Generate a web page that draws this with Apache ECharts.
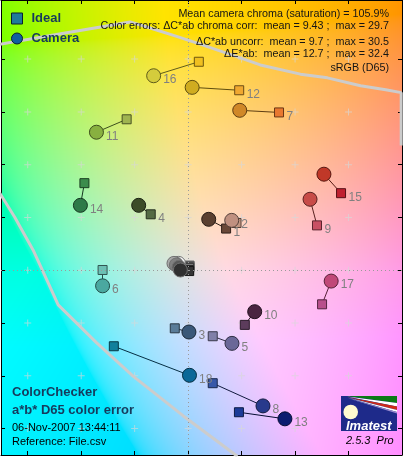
<!DOCTYPE html>
<html><head><meta charset="utf-8">
<script src="https://cdn.jsdelivr.net/npm/echarts@6/dist/echarts.min.js"></script>
<style>html,body{margin:0;padding:0;background:#fff;}#c{width:404px;height:457px;}</style>
</head><body><div id="c"></div>
<script>
// ---- data ----
const patchNames = ['1','2','3','4','5','6','7','8','9','10','11','12','13','14','15','16','17','18','19','20','21','22','23','24'];
const cameraA = [7.7, 16.3, 0.3, -18.5, 16.4, -32.0, 19.3, 28.0, 45.6, 24.9, -34.3, 1.5, 36.2, -40.3, 50.8, -12.9, 53.5, 0.5, -3.6, -4.6, -5.3, -4.4, -3.4, -2.9];
const cameraB = [19.3, 18.9, -23.4, 24.6, -27.7, -5.9, 60.6, -51.4, 26.9, -15.7, 52.3, 69.3, -56.3, 24.6, 36.4, 73.7, -4.1, -39.8, 2.6, 2.4, 2.6, 2.0, 1.1, 0.1];
const idealA = [14.2, 18.1, -5.0, -14.0, 9.2, -32.0, 34.0, 9.2, 48.2, 21.2, -23.0, 19.1, 19.0, -38.8, 57.2, 4.0, 50.1, -27.8, 0.5, 0.5, 0.4, 0.4, 0.3, 0.4];
const idealB = [15.8, 17.9, -22.0, 21.2, -25.0, 0.1, 59.8, -42.8, 17.0, -20.7, 57.2, 68.2, -53.8, 33.0, 29.2, 79.0, -12.9, -28.8, 1.8, 1.6, 1.2, 0.9, 0.1, -0.3];
const cameraColors = ['#5a4030','#c09080','#3a5878','#3c4c28','#6a6898','#4aa8a0','#d08828','#283a8c','#c84c48','#4a2440','#88b040','#d0ac20','#0c1c70','#2e7a48','#c03828','#d4cc3c','#c04878','#0a6898','#f4f4f4','#d0d0d0','#a8a8a8','#808080','#585858','#303030'];
const idealColors = ['#6a4838','#c29682','#5a7c98','#546a44','#8080a8','#6cc0b4','#e87830','#3858a8','#c85064','#5c3c5c','#a0b450','#f0a830','#1c3c98','#3c8c4c','#c02030','#f0c020','#b8508c','#10809c','#f3f3f3','#c8c8c8','#a0a0a0','#7a7a7a','#555555','#343434'];
const labelAt = ['i','c','c','i','c','c','i','c','i','c','c','i','c','c','i','c','c','c','','','','','',''];
const gamutTopA = [-70.5, -46.0, -21.7, -14.2, -4.9, 4.5, 19.5, 27.0, 42.0, 52.1, 64.5, 73.9, 79.7, 79.7];
const gamutTopB = [85.6, 89.9, 94.1, 91.8, 88.8, 85.7, 80.5, 77.8, 74.3, 72.9, 69.9, 68.4, 67.3, 47.3];
const gamutLowA = [-70.5, -64.9, -58.0, -51.7, -48.6, -34.2, -20.5, -1.8, 18.4];
const gamutLowB = [29.3, 20.2, 7.7, -6.2, -13.1, -27.5, -40.2, -55.2, -70.5];
const aTicks = [-60, -40, -20, 0, 20, 40, 60];
const bTicks = [-60, -40, -20, 0, 20, 40, 60, 80];
const aRange = [-70, 80];
const bRange = [-70, 102.4];
const infoLines = [
  'Mean camera chroma (saturation) = 105.9%',
  'Color errors: \u0394C*ab chroma corr:  mean = 9.43 ;  max = 29.7',
  '\u0394C*ab uncorr:  mean = 9.7 ;  max = 30.5',
  '\u0394E*ab:  mean = 12.7 ;  max = 32.4',
  'sRGB (D65)'
];

// ---- helpers ----
const FONT = "'Liberation Sans', Arial, sans-serif";
function shade(hex, f) {
  const n = parseInt(hex.slice(1), 16);
  const r = Math.round(((n >> 16) & 255) * f), g = Math.round(((n >> 8) & 255) * f), b = Math.round((n & 255) * f);
  return 'rgb(' + r + ',' + g + ',' + b + ')';
}
function labToSrgb(L, a, b) {
  const fy = (L + 16) / 116, fx = fy + a / 500, fz = fy - b / 200;
  const d = 6 / 29;
  const finv = t => t > d ? t * t * t : 3 * d * d * (t - 4 / 29);
  const X = 0.95047 * finv(fx), Y = finv(fy), Z = 1.08883 * finv(fz);
  const r = 3.2406 * X - 1.5372 * Y - 0.4986 * Z;
  const g = -0.9689 * X + 1.8758 * Y + 0.0415 * Z;
  const bl = 0.0557 * X - 0.2040 * Y + 1.0570 * Z;
  const gam = v => { v = Math.min(1, Math.max(0, v)); return v <= 0.0031308 ? 12.92 * v : 1.055 * Math.pow(v, 1 / 2.4) - 0.055; };
  return [gam(r) * 255, gam(g) * 255, gam(bl) * 255];
}

const GRID = { left: 1, top: 0, right: 2, bottom: 2 };
const W = 404 - GRID.left - GRID.right, H = 457 - GRID.top - GRID.bottom;
const bg = document.createElement('canvas');
bg.width = W; bg.height = H;
(function () {
  const ctx = bg.getContext('2d');
  const img = ctx.createImageData(W, H);
  for (let j = 0; j < H; j++) {
    const b = bRange[1] - (j + 0.5) / H * (bRange[1] - bRange[0]);
    const bb = b < 0 ? b * 0.7 : b;
    const L = b < 0 ? 90 + 0.1 * b : 90;
    for (let i = 0; i < W; i++) {
      const a = aRange[0] + (i + 0.5) / W * (aRange[1] - aRange[0]);
      const c = labToSrgb(L, a, bb);
      const k = (j * W + i) * 4;
      img.data[k] = c[0]; img.data[k + 1] = c[1]; img.data[k + 2] = c[2]; img.data[k + 3] = 255;
    }
  }
  ctx.putImageData(img, 0, 0);
})();

// ---- series data ----
const crossData = [];
aTicks.forEach(a => bTicks.forEach(b => crossData.push([a, b])));
const connData = patchNames.map((n, i) => ({
  coords: [[cameraA[i], cameraB[i]], [idealA[i], idealB[i]]],
  lineStyle: { color: shade(cameraColors[i], 0.45) }
}));
const idealData = patchNames.map((n, i) => ({
  value: [idealA[i], idealB[i]],
  itemStyle: { color: idealColors[i], borderColor: shade(idealColors[i], 0.45) },
  label: { show: labelAt[i] === 'i', formatter: n }
}));
const camData = patchNames.map((n, i) => ({
  value: [cameraA[i], cameraB[i]],
  itemStyle: { color: cameraColors[i], borderColor: i >= 18 ? '#707070' : shade(cameraColors[i], 0.45) },
  label: { show: labelAt[i] === 'c', formatter: n }
}));
const labelStyle = { fontFamily: FONT, fontSize: 12, color: '#808080', align: 'left', verticalAlign: 'middle' };

function axisCommon(ticks, rng, pos) {
  return {
    type: 'value', min: rng[0], max: rng[1], position: pos,
    axisLine: { show: true, onZero: false, lineStyle: { color: '#000', width: 1 } },
    axisTick: { show: true, inside: true, length: 4, customValues: ticks, lineStyle: { color: '#000' } },
    axisLabel: { show: false }, splitLine: { show: false }
  };
}

const infoY = [14, 26.5, 42, 54, 68];
const graphics = [
  { type: 'image', x: GRID.left, y: GRID.top, z: -100, silent: true, style: { image: bg, width: W, height: H } }
];
infoLines.forEach((t, k) => graphics.push({
  type: 'text', x: 389, y: infoY[k], z: 100, silent: true,
  style: { text: t, font: '10.75px ' + FONT, fill: '#151515', align: 'right', verticalAlign: 'middle', textAlign: 'right', textVerticalAlign: 'middle' }
}));
[['ColorChecker', 392.7, 'bold 13px ', '#163a5c'], ['a*b* D65 color error', 410.5, 'bold 13px ', '#163a5c'],
 ['06-Nov-2007 13:44:11', 428, '11px ', '#000'], ['Reference: File.csv', 441.5, '11px ', '#000']].forEach(t => graphics.push({
  type: 'text', x: 12, y: t[1], z: 100, silent: true,
  style: { text: t[0], font: t[2] + FONT, fill: t[3], align: 'left', verticalAlign: 'middle', textAlign: 'left', textVerticalAlign: 'middle' }
}));
// Imatest logo
graphics.push(
  { type: 'rect', z: 100, silent: true, shape: { x: 341, y: 396, width: 56, height: 35 }, style: { fill: '#1e2a8a' } },
  { type: 'polygon', z: 101, silent: true, shape: { points: [[347, 396], [397, 396], [397, 403]] }, style: { fill: '#0a7a14' } },
  { type: 'polygon', z: 101, silent: true, shape: { points: [[347, 396.5], [397, 403], [397, 406.5]] }, style: { fill: '#ffffff' } },
  { type: 'polygon', z: 101, silent: true, shape: { points: [[347, 397], [397, 406.5], [397, 410]] }, style: { fill: '#cc2a1a' } },
  { type: 'polygon', z: 101, silent: true, shape: { points: [[347, 397.5], [397, 410], [397, 412]] }, style: { fill: '#ffffff' } },
  { type: 'polygon', z: 101, silent: true, shape: { points: [[347, 398], [397, 412], [397, 413.5]] }, style: { fill: '#9a8ad0' } },
  { type: 'circle', z: 102, silent: true, shape: { cx: 350.7, cy: 412, r: 7.3 }, style: { fill: '#fffbd0' } },
  { type: 'text', z: 102, silent: true, x: 346, y: 426, style: { text: 'Imatest', font: 'italic bold 13px ' + FONT, fill: '#fff', align: 'left', verticalAlign: 'middle', textAlign: 'left', textVerticalAlign: 'middle' } },
  { type: 'text', z: 102, silent: true, x: 346, y: 441, style: { text: '2.5.3  Pro', font: 'italic 11px ' + FONT, fill: '#000', align: 'left', verticalAlign: 'middle', textAlign: 'left', textVerticalAlign: 'middle' } }
);

const chart = echarts.init(document.getElementById('c'), null, { renderer: 'canvas' });
chart.setOption({
  animation: false,
  backgroundColor: '#fff',
  grid: GRID,
  xAxis: [axisCommon(aTicks, aRange, 'bottom'), axisCommon(aTicks, aRange, 'top')],
  yAxis: [axisCommon(bTicks, bRange, 'left'), axisCommon(bTicks, bRange, 'right')],
  legend: {
    orient: 'vertical', left: 11, top: 11.5, padding: 0, itemWidth: 11, itemHeight: 11, itemGap: 6,
    selectedMode: false,
    textStyle: { fontFamily: FONT, fontSize: 13, fontWeight: 'bold', color: '#163a5c', lineHeight: 14, padding: [0, 0, 0, 4] },
    data: [
      { name: 'Ideal', icon: 'rect', itemStyle: { color: '#1f7a9a', borderColor: '#0a2030', borderWidth: 1 } },
      { name: 'Camera', icon: 'circle', itemStyle: { color: '#1060a0', borderColor: '#0a2030', borderWidth: 1 } }
    ]
  },
  graphic: { elements: graphics },
  series: [
    {
      name: 'grid', type: 'scatter', z: 1, silent: true, symbol: 'path://M3,0h1v3h3v1h-3v3h-1v-3h-3v-1h3z', symbolSize: 7,
      itemStyle: { color: 'rgba(215,215,215,0.85)' }, data: crossData,
      markLine: {
        silent: true, symbol: 'none', label: { show: false },
        lineStyle: { color: '#9a9a9a', width: 1, type: [1, 3] },
        data: [{ xAxis: 0 }, { yAxis: 0 }]
      }
    },
    { name: 'gamutTop', type: 'line', z: 2, silent: true, showSymbol: false, clip: true, lineStyle: { color: '#cccccc', width: 3 },
      data: gamutTopA.map((a, i) => [a, gamutTopB[i]]) },
    { name: 'gamutLow', type: 'line', z: 2, silent: true, showSymbol: false, clip: true, lineStyle: { color: '#cccccc', width: 3 },
      data: gamutLowA.map((a, i) => [a, gamutLowB[i]]) },
    { name: 'conn', type: 'lines', coordinateSystem: 'cartesian2d', z: 3, silent: true, lineStyle: { width: 1, opacity: 1 }, data: connData },
    { name: 'Ideal', type: 'scatter', z: 4, symbol: 'rect', symbolSize: 9, itemStyle: { borderWidth: 1, opacity: 1 },
      label: Object.assign({ position: [12.5, 9.5] }, labelStyle), data: idealData },
    { name: 'Camera', type: 'scatter', z: 5, symbol: 'circle', symbolSize: 14, itemStyle: { borderWidth: 1, opacity: 1 },
      label: Object.assign({ position: [17, 11.5] }, labelStyle), data: camData }
  ]
});
</script></body></html>
